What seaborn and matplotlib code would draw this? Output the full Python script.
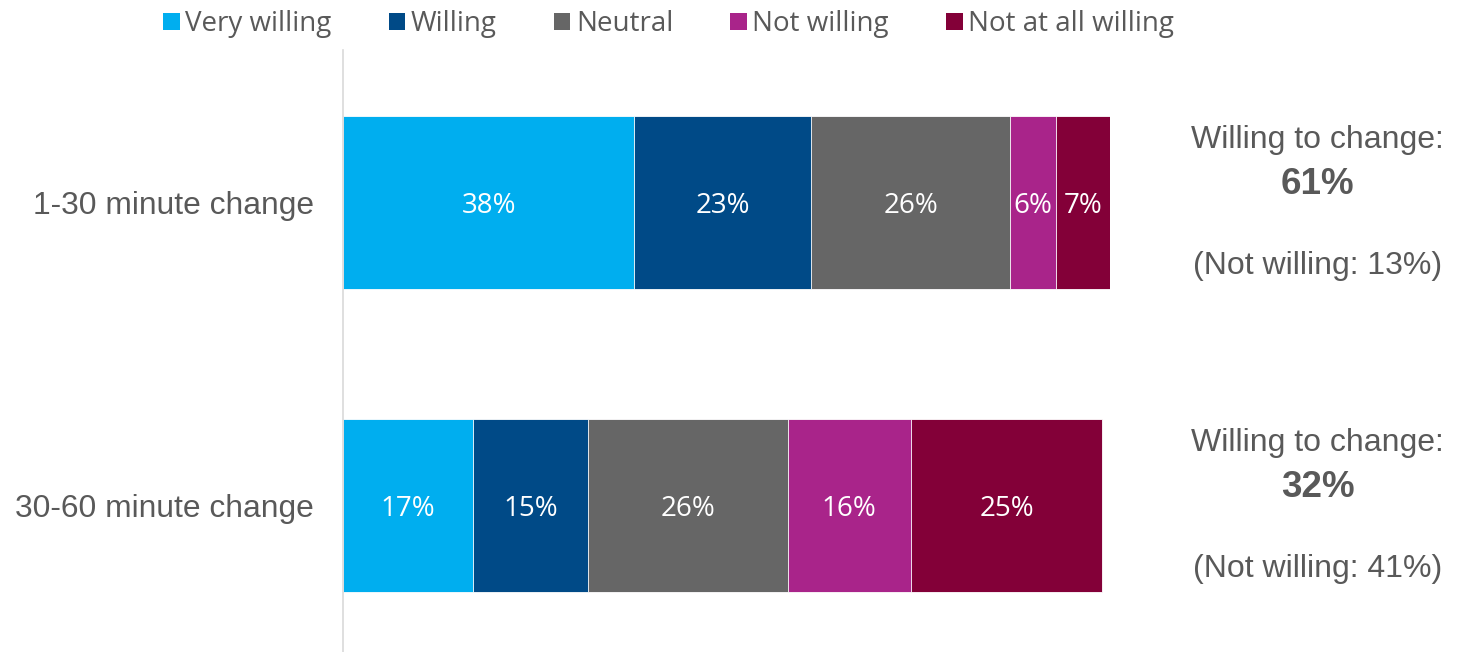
import numpy as np
import pandas as pd
import matplotlib
matplotlib.use("Agg")
import matplotlib.pyplot as plt
import seaborn as sns
from matplotlib.patches import Patch

# Data
groups = ["1-30 minute change", "30-60 minute change"]
responses = ["Very willing", "Willing", "Neutral", "Not willing", "Not at all willing"]
very_willing = [38, 17]
willing = [23, 15]
neutral = [26, 26]
not_willing = [6, 16]
not_at_all = [7, 25]
willing_total = [61, 32]
not_willing_total = [13, 41]

colors = ["#00AEEF", "#004A87", "#666666", "#A9248A", "#830038"]
grey = "#595959"

sns.set_style("white")
plt.rcParams["font.family"] = ["Liberation Sans", "DejaVu Sans"]

df = pd.DataFrame({"group": groups, "Very willing": very_willing, "Willing": willing,
                   "Neutral": neutral, "Not willing": not_willing,
                   "Not at all willing": not_at_all})
cum = df[responses].cumsum(axis=1)

fig = plt.figure(figsize=(14.61, 6.52), dpi=100)
ax = fig.add_axes([343 / 1461, 0, 767 / 1461, 1 - 50 / 652])

# stacked bars: draw cumulative totals back to front
for resp, col in reversed(list(zip(responses, colors))):
    sns.barplot(x=cum[resp], y=df["group"], orient="h", color=col, width=0.571,
                saturation=1, edgecolor="white", linewidth=0.6, ax=ax)

# segment labels
for i in range(len(groups)):
    for resp in responses:
        v = df.loc[i, resp]
        center = cum.loc[i, resp] - v / 2
        ax.text(center, i + 0.012, f"{v}%", ha="center", va="center", color="white",
                fontsize=20, family=["Open Sans", "DejaVu Sans"])

# right side annotations
tr = ax.get_yaxis_transform()
for i in range(len(groups)):
    ax.text(1.271, i - 0.205, "Willing to change:", transform=tr,
            ha="center", va="center", color=grey, fontsize=23)
    ax.text(1.271, i - 0.06, f"{willing_total[i]}%", transform=tr,
            ha="center", va="center", color=grey, fontsize=26.5, fontweight="bold")
    ax.text(1.271, i + 0.21, f"(Not willing: {not_willing_total[i]}%)", transform=tr,
            ha="center", va="center", color=grey, fontsize=23)

ax.set_xlim(0, 100)
ax.set_ylim(1.4835, -0.503)
ax.set_xlabel("")
ax.set_ylabel("")
ax.set_xticks([])
ax.tick_params(axis="y", length=0, pad=21, labelsize=22.9, labelcolor=grey)
for s in ["top", "right", "bottom"]:
    ax.spines[s].set_visible(False)
ax.spines["left"].set_color("#D9D9D9")
ax.spines["left"].set_linewidth(1.2)

handles = [Patch(facecolor=c, edgecolor="none") for c in colors]
leg = fig.legend(handles, responses, loc="center", bbox_to_anchor=(0.4576, 0.963), ncol=5,
                 frameon=False, handlelength=0.6, handleheight=0.6, handletextpad=0.2,
                 columnspacing=2.05, prop={"family": ["Open Sans", "DejaVu Sans"], "size": 20})
for t in leg.get_texts():
    t.set_color(grey)

fig.savefig("out.png", dpi=100)
